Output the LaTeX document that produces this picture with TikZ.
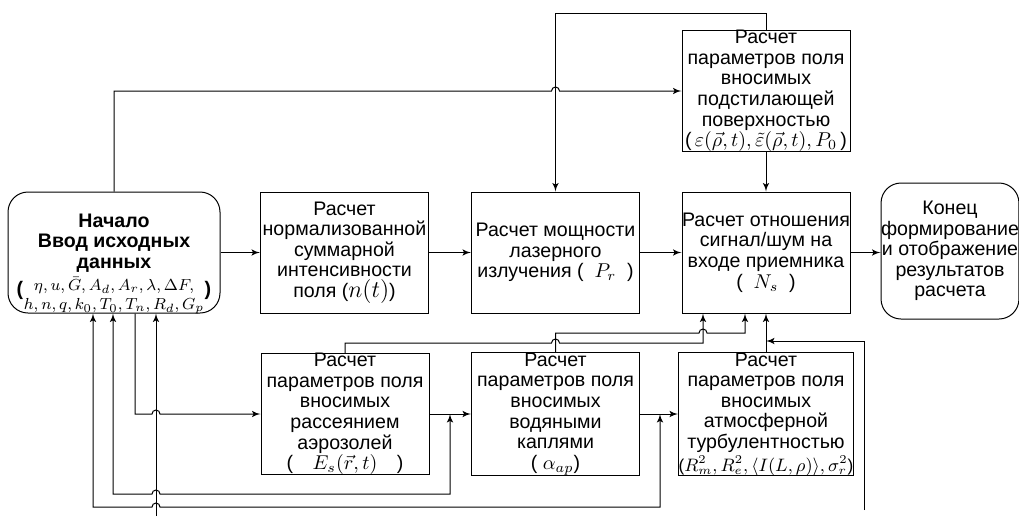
\documentclass[tikz,border=0pt]{standalone}
\usepackage{fontspec}
\setmainfont{Liberation Sans}
\usepackage{amsmath}
\usepackage{amssymb}
\usetikzlibrary{arrows, shapes}
\tikzset{
	tekst/.style={align=center, inner sep=0pt, font=\fontsize{9.8}{10.3}\selectfont},
	blok/.style={tekst, draw, rectangle, minimum width=84pt, minimum height=60.5pt},
	krai/.style={blok, rounded corners=10pt},
}
\newcommand{\melko}{\fontsize{8}{10.3}\selectfont}

\begin{document}
\begin{tikzpicture}[x=0.5pt, y=-0.5pt, line width=0.5pt]
				\useasboundingbox (0,0) rectangle (1019,516);
				\node[krai, minimum width=106pt] (start) at (114,252.5) {};
				\node[tekst] (startdata) at (114,264) {\textbf{Начало}\\ \textbf{Ввод исходных}\\ \textbf{данных}\\[0.5pt] {\melko$\eta,u,\bar{G},A_d,A_r,\lambda,\Delta F,$}\\[-0.5pt] {\melko$h,n,q,k_0,T_0,T_n,R_d,G_p$}};
				\node[tekst] (lskob) at (20,290) {\textbf{(}};
				\node[tekst] (pskob) at (208,290) {\textbf{)}};
				\node[blok] (norm) at (344.5,252.5) {Расчет\\нормализованной\\суммарной\\интенсивности\\поля ({\large$n(t)$})};
				\node[blok] (moshch) at (555.5,252.5) {Расчет мощности\\лазерного\\излучения (\;\;$P_r$\;\;)};
				\node[blok] (snr) at (766,252.5) {Расчет отношения\\сигнал/шум на\\входе приемника\\(\;\;$N_s$\;\;)};
				\node[krai, minimum width=65pt, minimum height=68pt] (konec) at (950,251) {Конец\\формирование\\и отображение\\результатов\\расчета};
				\node[blok] (podst) at (766,91) {Расчет\\параметров поля\\вносимых\\подстилающей\\поверхностью\\(\,$\varepsilon(\vec{\rho},t),\tilde{\varepsilon}(\vec{\rho},t),P_0$\,)};
				\node[blok] (aerozol) at (345,414) {Расчет\\параметров поля\\вносимых\\рассеянием\\аэрозолей\\(\quad$E_s(\vec{r},t)$\quad)};
				\node[blok] (kapli) at (555.5,414) {Расчет\\параметров поля\\вносимых\\водяными\\каплями\\(\;$\alpha_{ap}$)};
				\node[blok] (turb) at (766,414) {Расчет\\параметров поля\\вносимых\\атмосферной\\турбулентностью\\[1pt]{\fontsize{8.6}{10.3}\selectfont($R_m^2,R_e^2,\langle I(L,\rho)\rangle,\sigma_r^2$)}};
				\coordinate (vhod1) at (156,516);
				\coordinate (vhod2) at (864,510);
				\path[draw,->,>=latex'] (start.east) -- (norm.west);
				\path[draw,->,>=latex'] (norm.east) -- (moshch.west);
				\path[draw,->,>=latex'] (moshch.east) -- (snr.west);
				\path[draw,->,>=latex'] (snr.east) -- (snr.east -| konec.west);
				\path[draw,->,>=latex'] (podst.south) -- (snr.north);
				\path[draw,->,>=latex'] (podst.north) -- ++(0,-16) -| (moshch.north);
				\path[draw,->,>=latex'] (start.north) -- (start.north |- podst.west) -- ([xshift=-2pt]moshch.north |- podst.west) arc[start angle=180, end angle=0, radius=2pt] -- (podst.west);
				\path[draw,->,>=latex'] (aerozol.east) -- (kapli.west);
				\path[draw,->,>=latex'] (kapli.east) -- (turb.west);
				\path[draw,->,>=latex'] (turb.north) -- (snr.south);
				\path[draw,->,>=latex'] (aerozol.north) -- (345,343) -- ([xshift=-2pt]kapli.north |- 0,343) arc[start angle=180, end angle=0, radius=2pt] -- (703,343) -- (snr.south -| 703,0);
				\path[draw,->,>=latex'] (kapli.north) -- (555.5,333) -- (699,333) arc[start angle=180, end angle=0, radius=2pt] -- (745,333) -- (snr.south -| 745,0);
				\path[draw,->,>=latex'] (vhod2) |- (turb.north |- 0,341);
				\path[draw,->,>=latex'] (start.south -| 135,0) -- (135,414) -- (152,414) arc[start angle=180, end angle=0, radius=2pt] -- (aerozol.west);
				\path[draw,<->,>=latex'] (start.south -| 113,0) -- (113,494) -- (152,494) arc[start angle=180, end angle=0, radius=2pt] -- (450,494) -- (aerozol.east -| 450,0);
				\path[draw,<->,>=latex'] (start.south -| 93,0) -- (93,507) -- (152,507) arc[start angle=180, end angle=0, radius=2pt] -- (660,507) -- (kapli.east -| 660,0);
				\path[draw,->,>=latex'] (vhod1) -- (start.south -| vhod1);
\end{tikzpicture}
\end{document}
